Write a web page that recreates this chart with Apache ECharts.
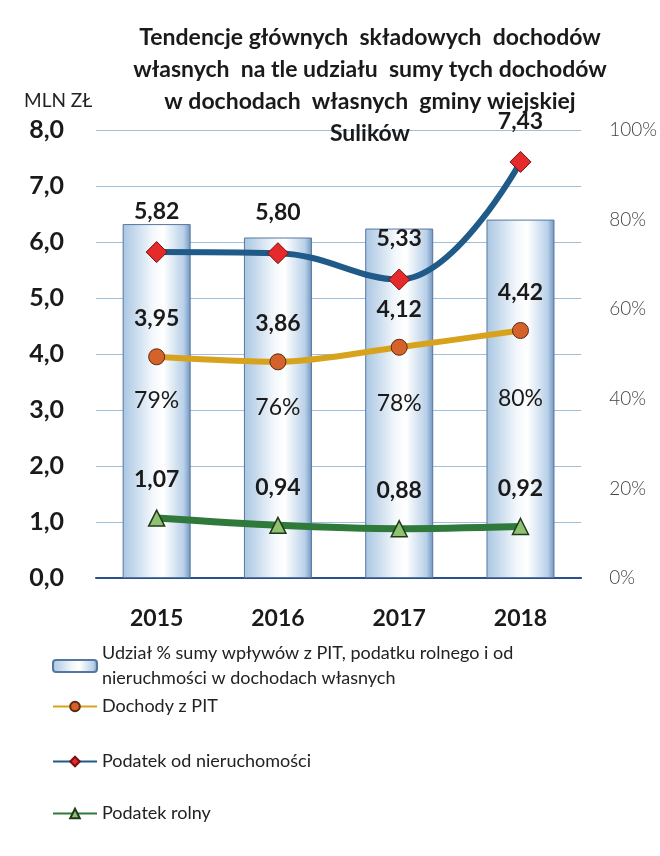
<!DOCTYPE html>
<html>
<head>
<meta charset="UTF-8" />
<script src="https://cdn.jsdelivr.net/npm/echarts@6/dist/echarts.min.js"></script>
<title>Sulików</title>
<style>
  html, body { margin: 0; padding: 0; background: #fff; }
  #main { width: 660px; height: 856px; }
</style>
</head>
<body>
<div id="main"></div>
<script type="text/javascript">
	var years = ['2015', '2016', '2017', '2018'];
	var udzial = [79, 76, 78, 80];
	var pit = [3.95, 3.86, 4.12, 4.42];
	var nieruch = [5.82, 5.80, 5.33, 7.43];
	var rolny = [1.07, 0.94, 0.88, 0.92];

	var nameBar = 'Udział % sumy wpływów z PIT, podatku rolnego i od\nnieruchmości w dochodach własnych';
	var namePit = 'Dochody z PIT';
	var nameNier = 'Podatek od nieruchomości';
	var nameRol = 'Podatek rolny';

	var FONT = 'Lato';

	function pl(v) {
		return v.toFixed(2).replace('.', ',');
	}

	function lineLabel() {
		return {
			show: true,
			position: 'top',
			distance: 18,
			fontFamily: FONT,
			fontWeight: 'bold',
			fontSize: 23,
			color: '#1a1a1a',
			formatter: function (p) { return pl(p.value); }
		};
	}

	function legendBox(name, top) {
		return {
			data: [name],
			left: 47,
			top: top,
			orient: 'vertical',
			itemWidth: 44,
			itemHeight: 12,
			itemGap: 6,
			textStyle: { fontFamily: FONT, fontSize: 18, color: '#222', lineHeight: 25 }
		};
	}

	var myChart = echarts.init(document.getElementById('main'));
	var option = {
		backgroundColor: '#fff',
		animation: false,
		title: {
			text: 'Tendencje głównych  składowych  dochodów\nwłasnych  na tle udziału  sumy tych dochodów\nw dochodach  własnych  gminy wiejskiej\nSulików',
			left: 365,
			textAlign: 'center',
			top: 17,
			textStyle: { fontFamily: FONT, fontWeight: 'bold', fontSize: 23, lineHeight: 32, color: '#1a1a1a' }
		},
		legend: [
			legendBox(nameBar, 636),
			legendBox(namePit, 689),
			legendBox(nameNier, 744),
			legendBox(nameRol, 796)
		],
		grid: { left: 96, right: 77, top: 130, bottom: 278 },
		xAxis: {
			type: 'category',
			data: years,
			axisLine: { lineStyle: { color: '#2b4f8f', width: 2 } },
			axisTick: { show: false },
			axisLabel: { margin: 29, fontFamily: FONT, fontWeight: 'bold', fontSize: 23, color: '#1a1a1a' }
		},
		yAxis: [{
			type: 'value',
			min: 0,
			max: 8,
			interval: 1,
			name: 'MLN ZŁ',
			nameLocation: 'end',
			nameGap: 20,
			nameTextStyle: { fontFamily: FONT, fontSize: 19, color: '#222', align: 'left', padding: [0, 0, 0, -72] },
			axisLine: { show: false },
			axisTick: { show: false },
			splitLine: { lineStyle: { color: '#9fc0dd', width: 1.2 } },
			axisLabel: {
				margin: 32,
				fontFamily: FONT,
				fontWeight: 'bold',
				fontSize: 25,
				color: '#1a1a1a',
				formatter: function (v) { return v.toFixed(1).replace('.', ','); }
			}
		}, {
			type: 'value',
			min: 0,
			max: 100,
			interval: 20,
			position: 'right',
			axisLine: { show: false },
			axisTick: { show: false },
			splitLine: { show: false },
			axisLabel: { margin: 28, fontFamily: FONT, fontSize: 19, fontWeight: 300, color: '#444', formatter: '{value}%' }
		}],
		series: [{
			name: nameBar,
			type: 'bar',
			yAxisIndex: 1,
			data: udzial,
			barWidth: 68,
			itemStyle: {
				color: new echarts.graphic.LinearGradient(0, 0, 1, 0, [
					{ offset: 0, color: '#a9c6e2' },
					{ offset: 0.45, color: '#f4f8fc' },
					{ offset: 0.6, color: '#ffffff' },
					{ offset: 0.9, color: '#b8d0e8' },
					{ offset: 1, color: '#6f93bf' }
				]),
				borderColor: '#55779f',
				borderWidth: 1
			},
			label: {
				show: true,
				position: 'inside',
				fontFamily: FONT,
				fontSize: 23,
				color: '#1a1a1a',
				formatter: '{c}%'
			}
		}, {
			name: namePit,
			type: 'line',
			data: pit,
			smooth: 0.3,
			symbol: 'circle',
			symbolSize: 16,
			lineStyle: { color: '#d7a31c', width: 6 },
			itemStyle: { color: '#d5612b', borderColor: '#5a2a10', borderWidth: 1 },
			label: lineLabel()
		}, {
			name: nameNier,
			type: 'line',
			data: nieruch,
			smooth: 0.4,
			symbol: 'diamond',
			symbolSize: 21,
			lineStyle: { color: '#1f5a88', width: 6 },
			itemStyle: { color: '#e42a2a', borderColor: '#7a1010', borderWidth: 1 },
			label: lineLabel()
		}, {
			name: nameRol,
			type: 'line',
			data: rolny,
			smooth: 0.3,
			symbol: 'triangle',
			symbolSize: 16,
			lineStyle: { color: '#2f7a3a', width: 7 },
			itemStyle: { color: '#8fc270', borderColor: '#1f3a1a', borderWidth: 1.5 },
			label: lineLabel()
		}]
	};
	myChart.setOption(option);
</script>
</body>
</html>
